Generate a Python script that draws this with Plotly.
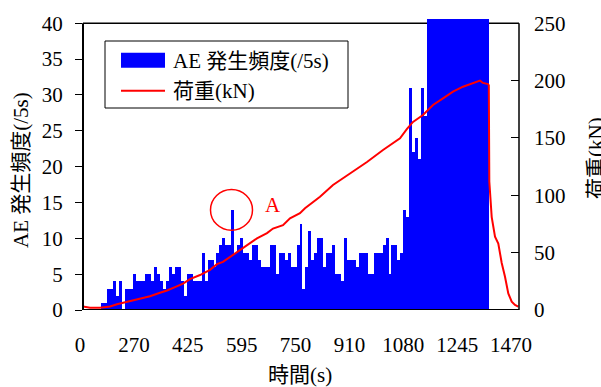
import numpy as np
import plotly.graph_objects as go

# ---------------- data ----------------
# AE hit counts per 5 s interval (bars); values beyond 40 are off-scale
ae_counts = [
    0, 0, 0, 0, 0, 0, 1, 1, 3, 3,
    4, 2, 4, 0, 3, 3, 3, 5, 4, 4,
    4, 5, 5, 4, 6, 5, 4, 3, 4, 6,
    5, 6, 6, 4, 2, 5, 5, 4, 4, 4,
    8, 4, 7, 7, 6, 8, 9, 10, 9, 9,
    14, 8, 9, 10, 8, 8, 7, 9, 9, 7,
    6, 6, 6, 9, 9, 5, 8, 8, 7, 8,
    6, 6, 9, 12, 3, 6, 11, 7, 8, 10,
    10, 6, 8, 8, 9, 5, 5, 4, 10, 7,
    7, 7, 6, 8, 8, 8, 5, 5, 8, 8,
    8, 9, 10, 5, 9, 9, 7, 8, 14, 13,
    31, 22, 24, 21, 31, 27,
    45, 45, 45, 45, 45, 45, 45, 45, 45, 45,
    45, 45, 45, 45, 45, 45, 45, 45, 45, 45, 45,
    0, 0, 0, 0, 0, 0, 0, 0, 0, 0,
]

# load curve: position (in interval units) and load (kN)
load_pos = [0.0, 2.36, 5.73, 9.10, 11.46, 14.83, 19.22, 22.59, 25.96, 28.32,
            31.02, 33.72, 36.08, 39.45, 42.82, 45.18, 47.20, 50.57, 52.93, 56.30,
            58.66, 62.04, 64.06, 67.43, 69.79, 73.16, 74.85, 79.91, 84.29, 90.02,
            95.75, 101.15, 106.88, 109.24, 111.26, 114.63, 118.00, 121.38, 124.75, 128.12,
            131.49, 133.85, 134.86, 136.55, 136.82, 136.99, 137.80, 138.91, 140.02, 141.17,
            142.28, 143.39, 144.54, 145.65, 146.76]
load_kn = [3, 2, 2, 3, 5, 7, 10, 12, 15, 17,
           20, 23, 27, 30.5, 35, 40, 42, 48, 52, 58,
           62.5, 67, 71, 74, 80, 84.5, 88.7, 98.8, 109, 119,
           129, 139.5, 149.7, 158, 164, 170, 178.8, 184.6, 190.4, 194.7,
           197.7, 200, 198, 197, 196, 112, 81, 64, 58, 41,
           29, 14.5, 7.3, 4.4, 3]

x_tick_labels = ["0", "270", "425", "595", "750", "910", "1080", "1245", "1470"]
y1_ticks = [0, 5, 10, 15, 20, 25, 30, 35, 40]
y2_ticks = [0, 50, 100, 150, 200, 250]

# ---------------- geometry ----------------
W, H = 601, 387
PL, PR, PT, PB = 83, 519, 19, 310
Y1MAX = 40
Y1TOP = 40.6
Y2TOP = 250 * Y1TOP / Y1MAX


def px(x):
    return (x - PL) / (PR - PL)


def py(y):
    return (PB - y) / (PB - PT)


FONT = "Liberation Serif, Noto Sans CJK JP, serif"
n_slots = len(ae_counts)
slot_px = (PR - PL) / n_slots
tick_step_px = 53.875
tickvals = [k * tick_step_px / slot_px for k in range(len(x_tick_labels))]

fig = go.Figure()
fig.add_trace(go.Bar(
    x=np.arange(n_slots) + 0.5, y=ae_counts, width=1.0,
    marker=dict(color="#0000FF", line=dict(width=0)),
    name="AE 発生頻度(/5s)", showlegend=False, yaxis="y",
))
fig.add_trace(go.Scatter(
    x=load_pos, y=load_kn, mode="lines",
    line=dict(color="#FF0000", width=2),
    name="荷重(kN)", showlegend=False, yaxis="y2",
))

fig.update_layout(
    width=W, height=H,
    margin=dict(l=PL, r=W - PR, t=PT, b=H - PB),
    paper_bgcolor="white", plot_bgcolor="white",
    bargap=0,
    font=dict(family=FONT, size=21, color="black"),
    xaxis=dict(
        range=[0, n_slots], showgrid=False, zeroline=False, showline=False,
        ticks="", tickvals=tickvals, ticktext=x_tick_labels,
        ticklabelshift=-3, ticklabelstandoff=20,
        tickfont=dict(family=FONT, size=21, color="black"),
    ),
    yaxis=dict(
        range=[0, Y1TOP], showgrid=False, zeroline=False, showline=False,
        ticks="outside", ticklen=7, tickwidth=1, tickcolor="black",
        tickvals=y1_ticks, ticklabelstandoff=8,
        tickfont=dict(family=FONT, size=21, color="black"),
    ),
    yaxis2=dict(
        range=[0, Y2TOP], overlaying="y", side="right",
        showgrid=False, zeroline=False, showline=False,
        ticks="inside", ticklen=8, tickwidth=1, tickcolor="black",
        tickvals=y2_ticks, ticklabelstandoff=14,
        tickfont=dict(family=FONT, size=21, color="black"),
    ),
)

shapes = []
# frame: top line under the bars, the others above
shapes.append(dict(type="line", xref="paper", yref="y", x0=0, x1=1, y0=Y1MAX, y1=Y1MAX,
                   line=dict(color="black", width=1.5), layer="below"))
shapes.append(dict(type="line", xref="paper", yref="y", x0=0, x1=0, y0=0, y1=Y1MAX,
                   line=dict(color="black", width=2), layer="above"))
shapes.append(dict(type="line", xref="paper", yref="y", x0=1, x1=1, y0=0, y1=Y1MAX,
                   line=dict(color="black", width=1.5), layer="above"))
shapes.append(dict(type="line", xref="paper", yref="y", x0=0, x1=1, y0=0, y1=0,
                   line=dict(color="black", width=2), layer="above"))
# legend box
shapes.append(dict(type="rect", xref="paper", yref="paper",
                   x0=px(105), x1=px(348), y0=py(108), y1=py(41),
                   line=dict(color="black", width=1), fillcolor="white", layer="above"))
shapes.append(dict(type="rect", xref="paper", yref="paper",
                   x0=px(121), x1=px(165), y0=py(67.7), y1=py(52.7),
                   line=dict(width=0), fillcolor="#0000FF", layer="above"))
shapes.append(dict(type="line", xref="paper", yref="paper",
                   x0=px(121), x1=px(165), y0=py(90.7), y1=py(90.7),
                   line=dict(color="#FF0000", width=2), layer="above"))
# circle "A"
shapes.append(dict(type="circle", xref="paper", yref="paper",
                   x0=px(210.5), x1=px(252.5), y0=py(230.3), y1=py(189.5),
                   line=dict(color="#FF0000", width=1.5), layer="above"))
fig.update_layout(shapes=shapes)

ann = []
ann.append(dict(text="AE 発生頻度(/5s)", xref="paper", yref="paper", x=px(171), y=py(61),
                xanchor="left", yanchor="middle", showarrow=False,
                font=dict(family=FONT, size=21, color="black")))
ann.append(dict(text="荷重(kN)", xref="paper", yref="paper", x=px(171), y=py(91),
                xanchor="left", yanchor="middle", showarrow=False,
                font=dict(family=FONT, size=21, color="black")))
ann.append(dict(text="A", xref="paper", yref="paper", x=px(272.5), y=py(205.5),
                xanchor="center", yanchor="middle", showarrow=False,
                font=dict(family=FONT, size=21, color="#FF0000")))
ann.append(dict(text="時間(s)", xref="paper", yref="paper", x=px(300), y=py(375),
                xanchor="center", yanchor="middle", showarrow=False,
                font=dict(family=FONT, size=21, color="black")))
ann.append(dict(text="AE 発生頻度(/5s)", xref="paper", yref="paper", x=px(21), y=py(170),
                xanchor="center", yanchor="middle", showarrow=False, textangle=-90,
                font=dict(family=FONT, size=21, color="black")))
ann.append(dict(text="荷重(kN)", xref="paper", yref="paper", x=px(596), y=py(158),
                xanchor="center", yanchor="middle", showarrow=False, textangle=-90,
                font=dict(family=FONT, size=21, color="black")))
fig.update_layout(annotations=ann)

fig.write_html("out.html")
